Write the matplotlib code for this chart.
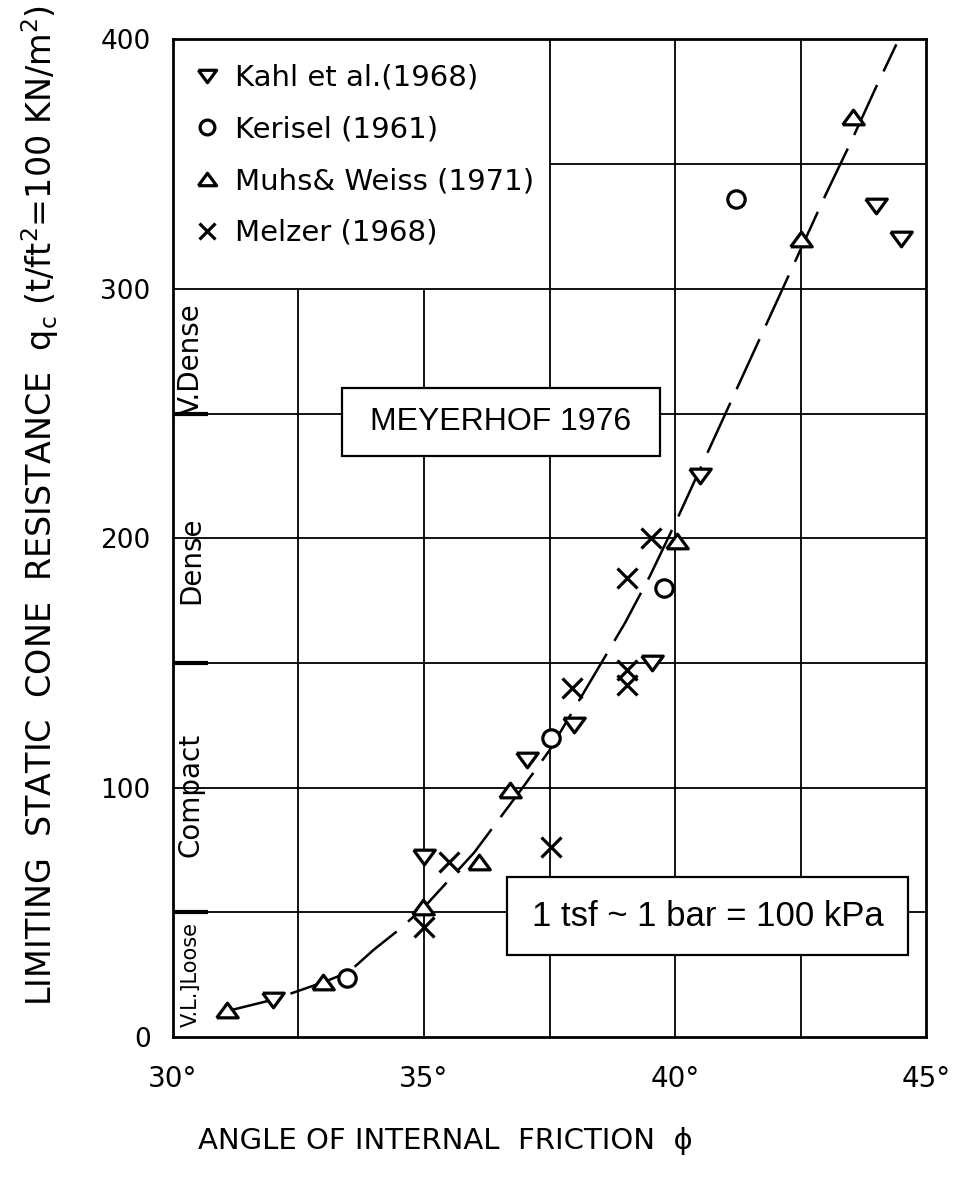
import matplotlib.pyplot as plt
import numpy as np
from matplotlib.patches import Rectangle

# Kahl et al. (1968)
kahl_phi = [32.0, 35.0, 37.05, 37.98, 39.54, 40.5, 43.99, 44.49]
kahl_qc = [15, 72, 111, 125, 150, 225, 333, 320]

# Kerisel (1961)
kerisel_phi = [33.47, 37.52, 39.77, 41.2]
kerisel_qc = [23.5, 120, 180, 336]

# Muhs & Weiss (1971)
muhs_phi = [31.08, 33.0, 34.99, 36.09, 36.72, 40.04, 42.5, 43.53]
muhs_qc = [11, 22, 52, 70, 99, 199, 320, 369]

# Melzer (1968)
melzer_phi = [35.0, 35.49, 37.52, 37.95, 39.04, 39.04, 39.04, 39.51]
melzer_qc = [44, 70, 76, 140, 141, 147, 184, 200]

# Meyerhof 1976 correlation curve
curve_phi = [31.0, 32.0, 33.0, 33.5, 34.0, 34.5, 35.0, 36.0, 37.0, 37.5, 38.0,
             38.5, 39.0, 39.5, 40.0, 40.5, 41.0, 41.5, 42.0, 42.5, 43.0, 43.5,
             44.0, 44.4]
curve_qc = [10, 15, 22, 26, 35, 43, 52, 74, 101, 115, 132,
            149, 166, 185, 206, 228, 250, 272, 294, 316, 338, 359,
            381, 398]

# relative density zones along the left edge
zone_labels = ['V.L.]Loose', 'Compact', 'Dense', 'V.Dense']
zone_centres = [25, 97, 191, 272]
zone_bounds = [50, 150, 250]

xticks = [30, 35, 40, 45]
yticks = [0, 100, 200, 300, 400]

fig = plt.figure(figsize=(9.58, 11.79), dpi=100)
ax = fig.add_axes([0.1803, 0.1204, 0.7868, 0.8462])
ax.set_xlim(30, 45)
ax.set_ylim(0, 400)

# grid, leaving the upper-left cell free for the key
for x in [32.5, 35.0]:
    ax.vlines(x, 0, 300, color='black', lw=1.3, zorder=1)
for x in [37.5, 40.0, 42.5]:
    ax.vlines(x, 0, 400, color='black', lw=1.3, zorder=1)
for y in [50, 100, 150, 200, 250, 300]:
    ax.hlines(y, 30, 45, color='black', lw=1.3, zorder=1)
ax.hlines(350, 37.5, 45, color='black', lw=1.3, zorder=1)

# zone boundaries and labels
for y in zone_bounds:
    ax.hlines(y, 30, 30.7, color='black', lw=3.0, zorder=2)
for lab, yc in zip(zone_labels, zone_centres):
    fs = 15 if lab.startswith('V.L') else 20
    ax.text(30.36, yc, lab, rotation=90, ha='center', va='center',
            fontsize=fs, zorder=3)

line, = ax.plot(curve_phi, curve_qc, color='black', lw=1.8, zorder=4)
line.set_dashes((22, 6))

tri_up = [(-1, -0.68), (1, -0.68), (0, 0.68), (-1, -0.68)]
tri_dn = [(-1, 0.68), (1, 0.68), (0, -0.68), (-1, 0.68)]
style = dict(linestyle='none', color='black', markerfacecolor='white',
             zorder=5)
ax.plot(kahl_phi, kahl_qc, marker=tri_dn, markersize=15.5, mew=2.3,
        label='Kahl et al.(1968)', **style)
ax.plot(kerisel_phi, kerisel_qc, marker='o', markersize=12.5, mew=2.3,
        label='Kerisel (1961)', **style)
ax.plot(muhs_phi, muhs_qc, marker=tri_up, markersize=15.5, mew=2.3,
        label='Muhs& Weiss (1971)', **style)
ax.plot(melzer_phi, melzer_qc, marker='x', markersize=14, mew=2.3,
        label='Melzer (1968)', **style)

ax.legend(loc='upper left', bbox_to_anchor=(0, 1), frameon=False,
          fontsize=21, markerscale=0.85, handlelength=0.7,
          handletextpad=0.6, labelspacing=0.81, borderpad=0.84,
          borderaxespad=0)

# annotation boxes
ax.add_patch(Rectangle((33.37, 233.0), 6.32, 27.2, fc='white',
                       ec='black', lw=1.6, zorder=6))
ax.text(36.53, 246.6, 'MEYERHOF 1976', ha='center', va='center',
        fontsize=23, family='Liberation Sans', zorder=7)
ax.add_patch(Rectangle((36.65, 32.9), 7.99, 31.3, fc='white',
                       ec='black', lw=1.6, zorder=6))
ax.text(40.64, 48.5, '1 tsf ~ 1 bar = 100 kPa', ha='center', va='center',
        fontsize=25, family='Liberation Sans', zorder=7)

ax.set_xticks(xticks)
ax.set_xticklabels(['%d°' % v for v in xticks], fontsize=20)
ax.set_yticks(yticks)
ax.set_yticklabels([str(v) for v in yticks], fontsize=19)
ax.tick_params(axis='both', length=0)
ax.tick_params(axis='x', pad=20)
ax.tick_params(axis='y', pad=16)
for s in ax.spines.values():
    s.set_linewidth(2.0)

fig.text(0.4645, 0.032, 'ANGLE OF INTERNAL  FRICTION  \u03d5',
         ha='center', va='center', fontsize=21)
fig.text(0.042, 0.571,
         'LIMITING  STATIC  CONE  RESISTANCE  $\\mathregular{q_c}$ '
         '(t/ft$\\mathregular{^2}$=100 KN/m$\\mathregular{^2}$)',
         rotation=90, ha='center', va='center', fontsize=24)

fig.savefig('out.png', dpi=100)
